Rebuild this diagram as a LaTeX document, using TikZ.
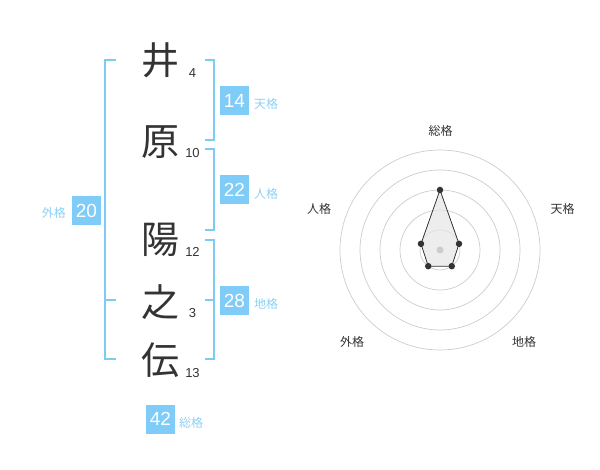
\documentclass[tikz,border=0pt]{standalone}
\usepackage{fontspec}
\setmainfont{Liberation Sans}
\newfontfamily\cjk{Noto Sans CJK JP}
\definecolor{boxblue}{HTML}{80CCF8}
\definecolor{lblblue}{HTML}{8ED0F5}
\definecolor{brblue}{HTML}{7DCAF6}
\definecolor{darkt}{HTML}{333333}
\definecolor{ringc}{HTML}{CCCCCC}
\tikzset{
  kanji/.style={inner sep=0pt, text=darkt, font=\cjk\fontsize{38}{38}\selectfont},
  strokes/.style={inner sep=0pt, text=darkt, font=\fontsize{13}{13}\selectfont},
  valbox/.style={fill=boxblue, text=white, minimum size=29pt, inner sep=0pt, font=\fontsize{19}{19}\selectfont},
  kaku/.style={inner sep=0pt, text=lblblue, font=\cjk\fontsize{12}{12}\selectfont},
  bracket/.style={draw=brblue, line width=1.6pt},
  ring/.style={draw=ringc, line width=0.7pt},
  radlbl/.style={inner sep=0pt, text=darkt, font=\cjk\fontsize{12}{12}\selectfont},
  pt/.style={circle, fill=darkt, inner sep=0pt, minimum size=6.5pt},
}
\begin{document}
\begin{tikzpicture}[x=1pt,y=-1pt]
\useasboundingbox (0,0) rectangle (600,470);
% characters
\node[kanji] (c1) at (160,60) {井};
\node[kanji] (c2) at (160,142) {原};
\node[kanji] (c3) at (160,240) {陽};
\node[kanji] (c4) at (160,302) {之};
\node[kanji] (c5) at (160,360) {伝};
\node[strokes] (n1) at (192.5,73) {4};
\node[strokes] (n2) at (192.5,153) {10};
\node[strokes] (n3) at (192.5,252) {12};
\node[strokes] (n4) at (192.5,313) {3};
\node[strokes] (n5) at (192.5,373) {13};
% brackets
\draw[bracket] (116,60) -- (105,60) -- (105,359) -- (116,359);
\draw[bracket] (105,300) -- (116,300);
\draw[bracket] (205,60) -- (214,60) -- (214,140) -- (205,140);
\draw[bracket] (205,149) -- (214,149) -- (214,230) -- (205,230);
\draw[bracket] (205,240) -- (214,240) -- (214,359) -- (205,359);
\draw[bracket] (205,300) -- (214,300);
% value boxes
\node[valbox] (v1) at (234.5,100.5) {14};
\node[kaku, anchor=west] (k1) at (254,104) {天格};
\node[valbox] (v2) at (234.5,190) {22};
\node[kaku, anchor=west] (k2) at (254,194) {人格};
\node[valbox] (v3) at (234.5,300.5) {28};
\node[kaku, anchor=west] (k3) at (254,304) {地格};
\node[valbox] (v4) at (86.5,210.5) {20};
\node[kaku, anchor=east] (k4) at (66,213) {外格};
\node[valbox] (v5) at (160.5,419) {42};
\node[kaku, anchor=west] (k5) at (179,422.5) {総格};
% radar
\coordinate (o) at (440,250);
\foreach \r in {20,40,60,80,100} \draw[ring] (o) circle (\r);
\coordinate (pS) at (440,190);
\coordinate (pT) at (459.02,243.82);
\coordinate (pC) at (451.76,266.18);
\coordinate (pG) at (428.24,266.18);
\coordinate (pJ) at (420.98,243.82);
\fill[gray!20, opacity=0.7] (pS) -- (pT) -- (pC) -- (pG) -- (pJ) -- cycle;
\draw[darkt, line width=0.8pt] (pS) -- (pT) -- (pC) -- (pG) -- (pJ) -- cycle;
\node[circle, fill=ringc, inner sep=0pt, minimum size=7pt] (ctr) at (o) {};
\foreach \p in {pS,pT,pC,pG,pJ} \node[pt] at (\p) {};
\node[radlbl] (lS) at (440.5,130.5) {総格};
\node[radlbl] (lT) at (562.5,209) {天格};
\node[radlbl] (lJ) at (319,209) {人格};
\node[radlbl] (lG) at (352,342) {外格};
\node[radlbl] (lC) at (524,342) {地格};
\end{tikzpicture}
\end{document}
